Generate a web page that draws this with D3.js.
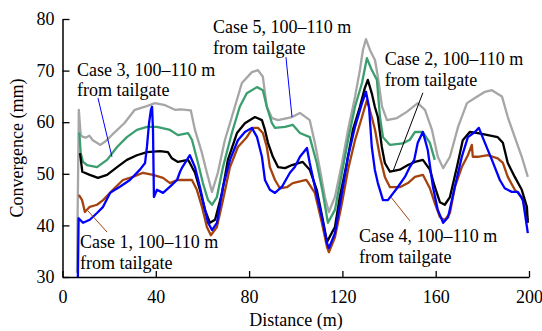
<!DOCTYPE html>
<html>
<head>
<meta charset="utf-8">
<script src="https://cdn.jsdelivr.net/npm/d3@7"></script>
<style>
  body { margin: 0; background: #fff; }
  text { font-family: "Liberation Serif", "Times New Roman", serif; }
</style>
</head>
<body>
<div id="chart"></div>
<script>
// [distance (m), convergence (mm)]
const case5 = [[6.2,30.8],[7,62.4],[7.8,57.5],[8.5,57.2],[10,57],[11.5,57.4],[13,56.5],[16.3,55.6],[19,56.5],[22,57.9],[26.5,59.8],[31,62.4],[35.4,63],[39.6,63.7],[44,63.3],[48.2,62.4],[50.7,62.5],[55,62.3],[56.8,58.5],[59.8,54],[61.9,50.2],[64.1,46.5],[66.6,50.2],[69.6,56.5],[73.9,63],[76.9,67.6],[81.2,69.7],[83.8,70.1],[85.9,68.8],[87.6,63],[89.8,60.8],[92.4,60.4],[98.4,61],[101.8,61.8],[106,60.4],[108.2,56],[110.4,50.8],[112.5,45.5],[114.2,42.6],[116.8,45.5],[119.8,52],[122.4,58.5],[125.4,64.9],[127.5,70.1],[128.8,74],[130.1,76.1],[131.8,74],[134,72],[135.2,68.8],[137,63],[139.1,60.4],[143.4,60.8],[147.6,62],[152.3,63.7],[155.4,62.4],[158.4,58.5],[160.9,53.3],[163.2,51.1],[166.1,53.3],[169.6,59.1],[173.4,63.7],[176.8,64.7],[181.1,65.9],[184.1,66.2],[188.4,65],[190.9,61],[193.9,57.1],[196.9,53.3],[199.5,49.4]];

const case3 = [[7.2,58],[7.8,54],[8.8,52.3],[10.5,51.7],[14.8,51.3],[19.1,52.7],[23.4,55.2],[27.6,57.1],[31.9,58.5],[36.2,59.1],[40.5,59.1],[46.1,58.5],[49.5,57.5],[53.8,57.9],[55.5,56.6],[58.1,52.1],[60.2,48.2],[62.4,44.9],[64.1,44],[66.2,45.5],[68.8,51.3],[72.6,57.9],[76,63],[79,65.6],[83.4,66.8],[85.9,66.2],[87.6,63],[89.8,59.8],[91.1,58.9],[95.4,59.1],[98.7,59.5],[101.8,57.9],[106,57.1],[109,52.1],[111.6,46.3],[113.8,40.5],[116.8,43],[119.8,50.2],[122.4,56.5],[125.4,63],[128.4,67.6],[130.5,72.4],[132.6,70.1],[134.8,68.2],[136.1,61],[137.4,57.1],[140.4,55.6],[145.9,55.9],[148.9,56.6],[151.1,58.1],[154.5,58.1],[157.5,56],[159.6,52.7]];

const case2 = [[7.5,54],[8.5,50.4],[11.7,49.8],[15.2,49.2],[19.1,49.8],[23.4,51.3],[27.6,52.7],[31.9,53.6],[36.2,54.2],[41.8,54.4],[45.2,54.2],[46.9,53],[49.5,52.3],[53.8,52.7],[54.6,52.1],[56.8,50.2],[58.9,46.9],[61.1,43],[63.2,40.5],[65.4,41.1],[68.4,46.3],[70.9,52.7],[74.8,57.9],[78.2,59.8],[82.5,61],[85.5,60.4],[86.8,58.5],[88.1,56],[90.2,53.3],[92.4,51.3],[95.4,51.1],[98.4,51.7],[103,52.3],[106,50.8],[109,46.9],[111.6,41.1],[113.4,36.8],[116.8,39.7],[118.9,45.5],[121.9,52.1],[124.5,58.5],[127.5,63],[129.6,66.6],[130.9,68.2],[132.6,65.6],[133.9,63],[135.2,61],[136.9,55.2],[138.2,52.1],[140.4,50.4],[144.6,50.8],[148.1,51.7],[151.1,52.3],[154.5,52.7],[157.5,50.8],[159.6,47.5],[161.8,44.5],[163.9,44],[166.1,45.5],[169.1,51.3],[171.6,56.5],[174.6,58.1],[178.1,57.9],[182.4,57.5],[186.6,57.1],[188.8,56],[190.9,52.1],[193.9,49.4],[196.9,46.9],[199.1,43.6],[199.5,40.5]];

const case1 = [[7,45.9],[8.4,44.9],[9.6,42.6],[11.7,43.6],[14.8,44],[17.4,44.9],[21.6,46.9],[25.9,48.8],[30.2,49.4],[34.5,50.2],[38.8,49.8],[43.1,49.2],[46.1,48.2],[49.1,48.8],[53.8,48.8],[55.5,48.8],[57.6,46.9],[59.8,43.6],[61.9,39.7],[63.6,38.1],[66.2,39.7],[68.8,44.9],[71.8,51.3],[75.2,55.2],[79,57.1],[81.6,58.9],[83.8,58.9],[85.9,57.9],[87.6,55.2],[88.9,51.3],[91.1,48.8],[93.2,47.2],[96.2,47.4],[98.7,48.2],[104.5,48.8],[105.2,48.4],[108.2,46.3],[111.2,40.5],[113.4,35.8],[114.2,34.8],[116.8,37.7],[119.8,44.3],[122.4,50.8],[125.4,56.5],[128.4,61],[130.5,64.3],[132.6,61],[134,58.5],[136.1,53.3],[138.2,49.4],[140.4,47.4],[144.6,47.4],[148.1,48.2],[151.1,49.4],[154.5,49.8],[157.5,47.2],[159.6,44.3],[161.8,41.6],[163.9,41],[166.1,42.4],[168.2,47.4],[171.2,51.3],[173.8,53.6],[175.5,55.6],[175.9,53.3],[178.1,53.3],[182.4,53.6],[186.6,53],[188.8,52.1],[190.9,49.4],[193.9,46.9],[196.9,45.5],[198.2,43.6],[199.5,41]];

const case4 = [[6.6,30],[6.9,41.4],[8.8,40.5],[11.7,41.1],[14.8,42.4],[17.4,43.6],[20.4,46.3],[24.6,47.5],[28.9,48.8],[33.2,50.8],[35.4,52.1],[36.2,55.2],[37.1,59.8],[37.9,62.4],[38.4,63],[38.8,58.5],[39.2,45.5],[40.5,46.9],[43.1,46.3],[46.1,47.5],[49.1,48.8],[50.4,50.4],[51.4,51.3],[54.6,53.6],[56.8,51.3],[58.9,47.5],[61.1,43],[62.4,40.5],[64.1,39.1],[66.2,40.5],[68.8,47.5],[71.8,52.7],[75.2,56.5],[78.2,58.1],[81.2,58.9],[83.4,57.1],[85.5,53.3],[86.8,48.8],[88.9,46.9],[91.1,46.3],[94.1,47.5],[97.5,50.2],[99.6,51.3],[101.8,53.3],[104.8,55],[106,52.1],[108.2,47.5],[111.2,41.6],[113.4,36.6],[114.2,35.6],[116.8,38.5],[119.8,46.3],[122.4,53.3],[125.4,59.1],[128.4,63.7],[130.1,65.9],[131.4,63],[132.6,55.2],[133.9,50.8],[135.2,48.2],[137.4,44.9],[139.5,44.9],[143.4,47.2],[146.8,49.4],[148.9,51.3],[150.8,52.7],[152.3,56],[154.5,58.1],[156.6,54.6],[158.8,47.5],[160.9,43],[163.2,40.5],[165.3,41.6],[168.2,47.5],[171.2,53.3],[173.8,57.1],[176.8,58.1],[178.5,58.9],[181.1,56],[184.1,52.7],[187.5,48.8],[189.6,47.2],[192.6,46.5],[195.2,46.5],[197.4,44.9],[199.5,38.5]];

const xTicks = [0, 40, 80, 120, 160, 200];
const yTicks = [30, 40, 50, 60, 70, 80];

// label text, anchor of text [d, v], leader line [d1, v1, d2, v2]
const labels = ['Case 5, 100–110 m', 'Case 3, 100–110 m', 'Case 2, 100–110 m', 'Case 1, 100–110 m', 'Case 4, 100–110 m'];
const labelPos = [[64.5, 77.3], [6.2, 69], [138.2, 71.1], [7.5, 35.6], [127.1, 36.8]];
const leaders = [[95.8, 72.6, 98.4, 61], [15.2, 64.7, 21.2, 53.3], [154.5, 65.7, 141.6, 50.4], [19.1, 38.7, 10.9, 42.8], [148.9, 40.9, 140.8, 45.5]];
const leaderColors = ['#0000ff', '#0000ff', '#000000', '#a5430f', '#a5430f'];

const series = [
  { data: case5, color: '#a6a6a6' },
  { data: case3, color: '#3b9e6e' },
  { data: case1, color: '#a5430f' },
  { data: case2, color: '#000000' },
  { data: case4, color: '#0000ff' }
];

const W = 542, H = 331;
const FONT = '"Liberation Serif", "Times New Roman", serif';

const svg = d3.select('#chart').append('svg')
  .attr('width', W)
  .attr('height', H)
  .attr('font-family', FONT);

const x = d3.scaleLinear().domain([0, 200]).range([62.5, 529]);
const y = d3.scaleLinear().domain([30, 80]).range([277, 19]);

const line = d3.line()
  .x(d => x(d[0]))
  .y(d => y(d[1]));

series.forEach(s => {
  svg.append('path')
    .datum(s.data)
    .attr('fill', 'none')
    .attr('stroke', s.color)
    .attr('stroke-width', 2.3)
    .attr('stroke-linejoin', 'round')
    .attr('d', line);
});

// axes, ticks pointing inward
const xAxis = svg.append('g')
  .attr('transform', 'translate(0,' + y(30) + ')')
  .call(d3.axisBottom(x).tickValues(xTicks).tickSizeInner(-6).tickSizeOuter(0).tickPadding(13));

const yAxis = svg.append('g')
  .attr('transform', 'translate(' + x(0) + ',0)')
  .call(d3.axisLeft(y).tickValues(yTicks).tickSizeInner(-7).tickSizeOuter(0).tickPadding(8));

[xAxis, yAxis].forEach(g => {
  g.attr('font-family', FONT).attr('font-size', 18);
  g.select('.domain').attr('stroke-width', 1.5);
  g.selectAll('.tick line').attr('stroke-width', 1.3);
  g.selectAll('text').attr('fill', '#000');
});

// annotations
labels.forEach((t, i) => {
  const l = leaders[i];
  svg.append('line')
    .attr('x1', x(l[0])).attr('y1', y(l[1]))
    .attr('x2', x(l[2])).attr('y2', y(l[3]))
    .attr('stroke', leaderColors[i])
    .attr('stroke-width', 1);

  const txt = svg.append('text')
    .attr('x', x(labelPos[i][0]))
    .attr('y', y(labelPos[i][1]))
    .attr('font-size', 18)
    .attr('fill', '#000');
  txt.append('tspan').text(t);
  txt.append('tspan')
    .attr('x', x(labelPos[i][0]))
    .attr('dy', '1.15em')
    .text('from tailgate');
});

svg.append('text')
  .attr('x', 296)
  .attr('y', 326)
  .attr('text-anchor', 'middle')
  .attr('font-size', 18)
  .text('Distance (m)');

svg.append('text')
  .attr('transform', 'translate(23,148) rotate(-90)')
  .attr('text-anchor', 'middle')
  .attr('font-size', 18)
  .text('Convergence (mm)');
</script>
</body>
</html>
